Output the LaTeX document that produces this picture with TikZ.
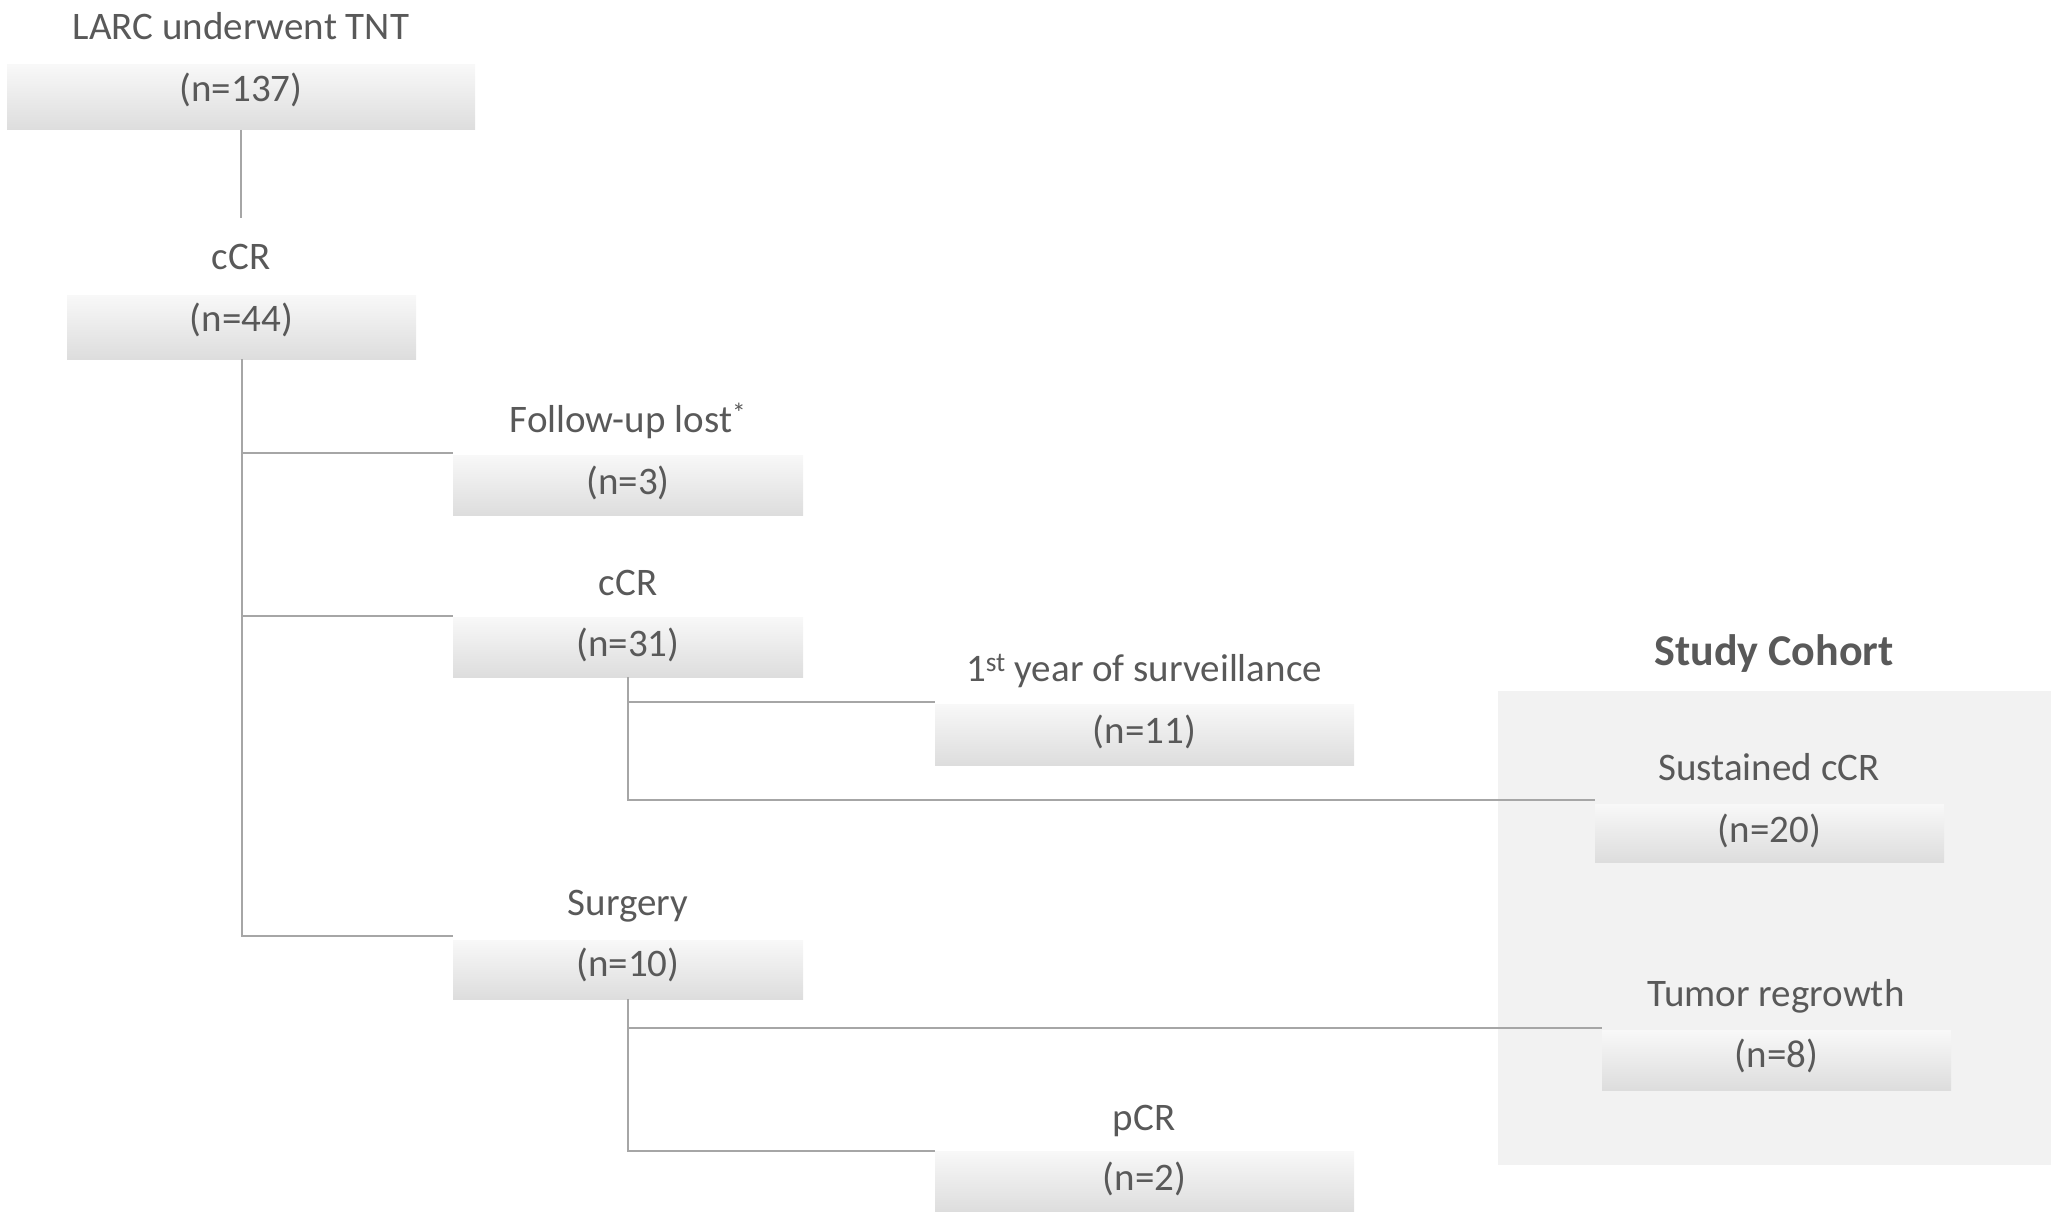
\documentclass[tikz,border=0pt]{standalone}
\usepackage{fontspec}
\setmainfont{Carlito}
\definecolor{txt}{HTML}{595959}
\definecolor{ln}{HTML}{A6A6A6}
\definecolor{cohort}{HTML}{F2F2F2}
\definecolor{gtop}{HTML}{F8F8F8}
\definecolor{gbot}{HTML}{DDDDDD}
\begin{document}
\begin{tikzpicture}[x=1pt,y=-1pt,
  every node/.style={text=txt,font=\fontsize{39}{47}\selectfont},
  nbox/.style={anchor=north west,inner sep=0pt,outer sep=0pt,draw=none,
    top color=gtop,bottom color=gbot,minimum height=#1,
    text height=26pt,text depth=8pt},
  nbox/.default=60pt,
  lbl/.style={anchor=base,inner sep=0pt},
  conn/.style={draw=ln,line width=2pt}]
\useasboundingbox (0,0) rectangle (2056,1212);
% study cohort panel
\fill[cohort] (1498,691) rectangle (2051,1165);
\node[lbl,font=\fontsize{44}{50}\selectfont\bfseries] (title) at (1774,665) {Study Cohort};
% boxes
\node[nbox=65pt,minimum width=468pt,text depth=17pt] (b1) at (7,65) {(n=137)};
\node[nbox=64pt,minimum width=349pt,text depth=18pt] (b2) at (67,295) {(n=44)};
\node[nbox,minimum width=350pt] (b3) at (453,455) {(n=3)};
\node[nbox,minimum width=350pt] (b4) at (453,617) {(n=31)};
\node[nbox=59pt,minimum width=350pt,text depth=12pt] (b5) at (453,940) {(n=10)};
\node[nbox=61pt,minimum width=419pt] (b6) at (935,704) {(n=11)};
\node[nbox=61pt,minimum width=419pt] (b7) at (935,1151) {(n=2)};
\node[nbox=58pt,minimum width=349pt] (b8) at (1595,804) {(n=20)};
\node[nbox=60pt,minimum width=349pt,text depth=11pt] (b9) at (1602,1030) {(n=8)};
% labels
\node[lbl] (l1) at (241,40) {LARC underwent TNT};
\node[lbl] (l2) at (241,269) {cCR};
\node[lbl] (l3) at (628,432) {Follow-up lost\textsuperscript{*}};
\node[lbl] (l4) at (628,595) {cCR};
\node[lbl] (l5) at (628,915) {Surgery};
\node[lbl] (l6) at (1144,681) {1\textsuperscript{st} year of surveillance};
\node[lbl] (l7) at (1144,1130) {pCR};
\node[lbl] (l8) at (1769,780) {Sustained cCR};
\node[lbl] (l9) at (1776,1006) {Tumor regrowth};
% connectors
\draw[conn,shorten >=25pt] (b1.south) -- (l2.north);
\draw[conn] (b2.south) |- ([yshift=2pt]b3.north west);
\draw[conn] (b2.south) |- ([yshift=1pt]b4.north west);
\draw[conn] (b2.south) |- ([yshift=4pt]b5.north west);
\draw[conn] (b4.south) |- ([yshift=2pt]b6.north west);
\draw[conn] (b4.south) |- ([yshift=4pt]b8.north west);
\draw[conn] (b5.south) |- ([yshift=2pt]b9.north west);
\draw[conn] (b5.south) |- (b7.north west);
\end{tikzpicture}
\end{document}
